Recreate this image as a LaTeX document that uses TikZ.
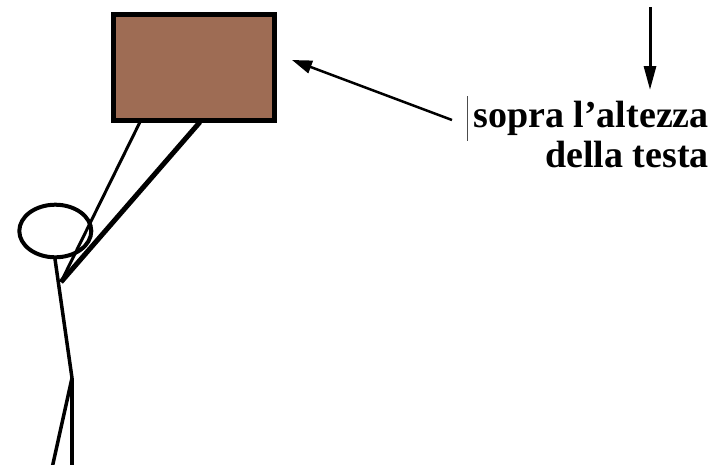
\documentclass[tikz,border=0pt]{standalone}
\usepackage{fontspec}
\setmainfont{Liberation Serif}
\usetikzlibrary{arrows.meta,shapes.geometric}
\definecolor{boxbrown}{RGB}{158,108,84}
\begin{document}
\begin{tikzpicture}[x=1pt,y=-1pt,
  figline/.style={draw=black,line width=3.5pt,line cap=round},
  pointer/.style={draw=black,line width=2.5pt,-{Triangle[length=20pt,width=13pt]}},
  label/.style={font=\bfseries\fontsize{38}{40}\selectfont,align=right,inner sep=0pt}]
\useasboundingbox (0,0) rectangle (728,464);
% raised box
\node[draw=black,line width=5pt,fill=boxbrown,minimum width=161pt,minimum height=106pt,inner sep=0pt]
  (box) at (193.8,67.8) {};
% head
\node[draw=black,line width=4pt,ellipse,minimum width=72pt,minimum height=52.6pt,inner sep=0pt]
  (head) at (55.3,231) {};
% skeleton points
\coordinate (neck) at (55,259);
\coordinate (hand) at (61,282);
\coordinate (hip) at (72,378);
\coordinate (footR) at (72,466);
\coordinate (footL) at (52.5,466);
\coordinate (armA) at (140,122);
\coordinate (armB) at (200,122);
% arms holding the box
\draw[figline,line width=3pt,line cap=butt] (armA) -- (hand);
\draw[figline,line width=5pt,line cap=butt] (armB) -- (hand);
% body and legs
\draw[figline,line width=3.5pt,line cap=butt] (neck) -- (hip);
\draw[figline,line cap=butt] (hip) -- (footR);
\draw[figline,line cap=butt] (hip) -- (footL);
% caption
\node[label,anchor=base east] (cap1) at (709,127) {sopra l’altezza};
\node[label,anchor=base east] (cap2) at (709,167) {della testa};
% text cursor
\coordinate (curT) at (467,96);
\coordinate (curB) at (467,141);
\draw[black!70,line width=0.8pt] (curT) -- (curB);
% arrows
\coordinate (tailA) at (452,120);
\coordinate (tipA) at (292,60);
\draw[pointer] (tailA) -- (tipA);
\coordinate (tailB) at (650,7);
\coordinate (tipB) at (650,90);
\draw[pointer,line width=3pt,-{Triangle[length=24pt,width=12pt]}] (tailB) -- (tipB);
\end{tikzpicture}
\end{document}
